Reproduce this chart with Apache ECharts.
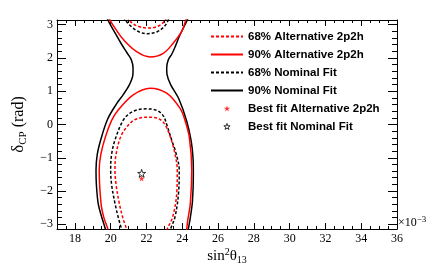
<!DOCTYPE html>
<html><head><meta charset="utf-8">
<script src="https://cdn.jsdelivr.net/npm/echarts@6/dist/echarts.min.js"></script>
<style>html,body{margin:0;padding:0;background:#fff}#c{width:442px;height:273px}</style>
</head><body><div id="c"></div>
<script>
// ---- tick labels ----
const xMajorTicks = [18, 20, 22, 24, 26, 28, 30, 32, 34, 36];
const yMajorTicks = [-3, -2, -1, 0, 1, 2, 3];
const xMinorTicks = [];
for (let v = 17; v <= 36.001; v += 0.5) xMinorTicks.push(+v.toFixed(2));
const yMinorTicks = [];
for (let v = -3; v <= 3.001; v += 0.2) yMinorTicks.push(+v.toFixed(2));

// ---- contours: [sin^2(theta13) x1e3, deltaCP] ----
const nom90Left = [[19.72,-3.25],[19.7,-3.14],[19.48,-2.75],[19.3,-2.37],[19.2,-1.8],[19.18,-1.37],[19.25,-0.9],[19.45,-0.45],[19.82,0.15],[20.3,0.6],[20.7,0.9],[21.05,1.2],[21.24,1.5],[21.25,1.7],[21.15,1.95],[20.92,2.15],[20.6,2.42],[20.3,2.7],[19.85,3.14],[19.8,3.25]];
const nom90Right = [[24.3,-3.25],[24.34,-3.14],[24.45,-2.8],[24.57,-2.3],[24.62,-1.5],[24.6,-1.0],[24.5,-0.5],[24.25,0.1],[23.8,0.78],[23.35,1.2],[23.15,1.5],[23.13,1.7],[23.22,1.95],[23.42,2.12],[23.65,2.4],[23.87,2.69],[24.28,3.14],[24.33,3.25]];
const alt90Top = [[19.9,3.25],[19.96,3.14],[20.3,2.85],[20.7,2.56],[21.45,2.19],[22.2,2.03],[22.94,2.14],[23.5,2.45],[23.97,2.8],[24.2,3.14],[24.25,3.25]];
const alt90Bottom = [[19.86,-3.25],[19.84,-3.14],[19.62,-2.8],[19.46,-2.37],[19.36,-1.37],[19.45,-0.9],[19.72,-0.35],[20.06,0.13],[20.4,0.42],[21.26,0.89],[22.2,1.09],[23.13,0.94],[23.87,0.49],[24.15,0.13],[24.4,-0.4],[24.53,-1.37],[24.45,-2.37],[24.3,-2.9],[24.25,-3.14],[24.22,-3.25]];
const nom68Top = [[20.75,3.25],[20.82,3.14],[21.2,2.92],[21.6,2.78],[22.05,2.73],[22.6,2.79],[23.0,2.95],[23.22,3.14],[23.28,3.25]];
const nom68Bottom = [[20.64,-3.25],[20.6,-3.14],[20.45,-2.85],[20.24,-2.37],[20.05,-1.8],[20.0,-1.37],[20.05,-0.9],[20.25,-0.45],[20.7,0.13],[21.08,0.34],[21.5,0.44],[22.0,0.47],[22.6,0.42],[22.95,0.25],[23.13,0.0],[23.41,-0.47],[23.65,-0.86],[23.83,-1.37],[23.8,-2.0],[23.6,-2.77],[23.35,-3.14],[23.3,-3.25]];
const alt68Top = [[20.97,3.25],[21.03,3.14],[21.4,2.98],[22.1,2.9],[22.7,2.97],[23.05,3.14],[23.1,3.25]];
const alt68Bottom = [[20.93,-3.25],[20.89,-3.14],[20.7,-2.85],[20.48,-2.37],[20.3,-1.8],[20.24,-1.37],[20.3,-0.9],[20.6,-0.32],[21.15,0.07],[21.6,0.19],[22.2,0.22],[22.7,0.17],[23.03,0.0],[23.35,-0.4],[23.6,-0.9],[23.72,-1.37],[23.7,-2.0],[23.47,-2.77],[23.16,-3.14],[23.1,-3.25]];
const altBestFit = [[21.73,-1.62]];
const nomBestFit = [[21.73,-1.47]];

const names = ['68% Alternative 2p2h','90% Alternative 2p2h','68% Nominal Fit','90% Nominal Fit','Best fit Alternative 2p2h','Best fit Nominal Fit'];

const STAR = 'path://M50,0 L61.2,34.5 L97.6,34.5 L68.2,55.9 L79.4,90.5 L50,69.1 L20.6,90.5 L31.8,55.9 L2.4,34.5 L38.8,34.5 Z';
const SERIF = 'Liberation Serif';
const CLEAR = 'rgba(0,0,0,0)';

function contour(name, data, color, dashed) {
  return {name: name, type: 'line', data: data, symbol: 'circle', showSymbol: false, smooth: 0.35, clip: true,
    lineStyle: {color: color, width: 1.5, type: dashed ? [3, 2] : 'solid'},
    itemStyle: {color: CLEAR, borderColor: CLEAR, borderWidth: 0},
    silent: true, animation: false};
}
const fmt = v => (v < 0 ? '\u2212' + (-v) : String(v));

function xAx(pos, major, showLabel, name) {
  const ax = {type: 'value', position: pos, min: 17, max: 36,
    axisLine: {show: major, onZero: false, lineStyle: {color: '#000', width: 1}},
    splitLine: {show: false},
    axisTick: {show: true, inside: true, length: major ? 6 : 3, customValues: major ? xMajorTicks : xMinorTicks, lineStyle: {color: '#000', width: 1}},
    axisLabel: {show: showLabel, customValues: xMajorTicks, margin: 4, color: '#000', fontFamily: SERIF, fontSize: 12}};
  if (name) Object.assign(ax, name);
  return ax;
}
function yAx(pos, major, showLabel, name) {
  const ax = {type: 'value', position: pos, min: -Math.PI, max: Math.PI,
    axisLine: {show: major, onZero: false, lineStyle: {color: '#000', width: 1}},
    splitLine: {show: false},
    axisTick: {show: true, inside: true, length: major ? 9 : 5, customValues: major ? yMajorTicks : yMinorTicks, lineStyle: {color: '#000', width: 1}},
    axisLabel: {show: showLabel, customValues: yMajorTicks, margin: 4, formatter: fmt, color: '#000', fontFamily: SERIF, fontSize: 12}};
  if (name) Object.assign(ax, name);
  return ax;
}

const chart = echarts.init(document.getElementById('c'), null, {renderer: 'canvas'});
chart.setOption({
  animation: false,
  backgroundColor: '#fff',
  grid: {left: 57, right: 45, top: 20, bottom: 44, containLabel: false},
  xAxis: [
    xAx('bottom', true, true, {name: '\u00d710{sup|\u22123}', nameLocation: 'end', nameGap: 1,
      nameTextStyle: {fontFamily: SERIF, fontSize: 12, color: '#000', align: 'left', verticalAlign: 'bottom', padding: [0,0,-1,0],
        rich: {sup: {fontFamily: SERIF, fontSize: 9, verticalAlign: 'top', padding: [0,0,6,0]}}}}),
    xAx('bottom', false, false, {name: 'sin{sup|2}\u03b8{sub|13}', nameLocation: 'middle', nameGap: 18,
      nameTextStyle: {fontFamily: SERIF, fontSize: 15, color: '#000',
        rich: {sup: {fontFamily: SERIF, fontSize: 10, padding: [0,0,7,0]}, sub: {fontFamily: SERIF, fontSize: 10, padding: [8,0,0,0]}}}}),
    xAx('top', true, false),
    xAx('top', false, false)
  ],
  yAxis: [
    yAx('left', true, true, {name: '{d|\u03b4}{sub|CP} (rad)', nameLocation: 'middle', nameGap: 28, nameRotate: 90,
      nameTextStyle: {fontFamily: SERIF, fontSize: 16, color: '#000',
        rich: {d: {fontFamily: SERIF, fontSize: 17}, sub: {fontFamily: SERIF, fontSize: 11, padding: [9,0,0,0]}}}}),
    yAx('left', false, false),
    yAx('right', true, false),
    yAx('right', false, false)
  ],
  legend: {orient: 'vertical', left: 210, top: 30, padding: 0, itemWidth: 32, itemHeight: 6, itemGap: 5,
    textStyle: {fontFamily: 'Liberation Sans', fontWeight: 'bold', fontSize: 11.5, color: '#000', lineHeight: 13},
    data: [
      {name: names[0]}, {name: names[1]}, {name: names[2]}, {name: names[3]},
      {name: names[4], itemStyle: {color: '#ff0000'}},
      {name: names[5], itemStyle: {color: CLEAR, borderColor: '#000', borderWidth: 1}}
    ]},
  series: [
    contour(names[3], nom90Left, '#000', false),
    contour(names[3], nom90Right, '#000', false),
    contour(names[2], nom68Top, '#000', true),
    contour(names[2], nom68Bottom, '#000', true),
    contour(names[1], alt90Top, '#ff0000', false),
    contour(names[1], alt90Bottom, '#ff0000', false),
    contour(names[0], alt68Top, '#ff0000', true),
    contour(names[0], alt68Bottom, '#ff0000', true),
    {name: names[4], type: 'scatter', data: altBestFit, symbol: STAR, symbolSize: 6, itemStyle: {color: '#ff0000'}, z: 5},
    {name: names[5], type: 'scatter', data: nomBestFit, symbol: STAR, symbolSize: 8, itemStyle: {color: CLEAR, borderColor: '#000', borderWidth: 1}, z: 5}
  ]
});
</script></body></html>
